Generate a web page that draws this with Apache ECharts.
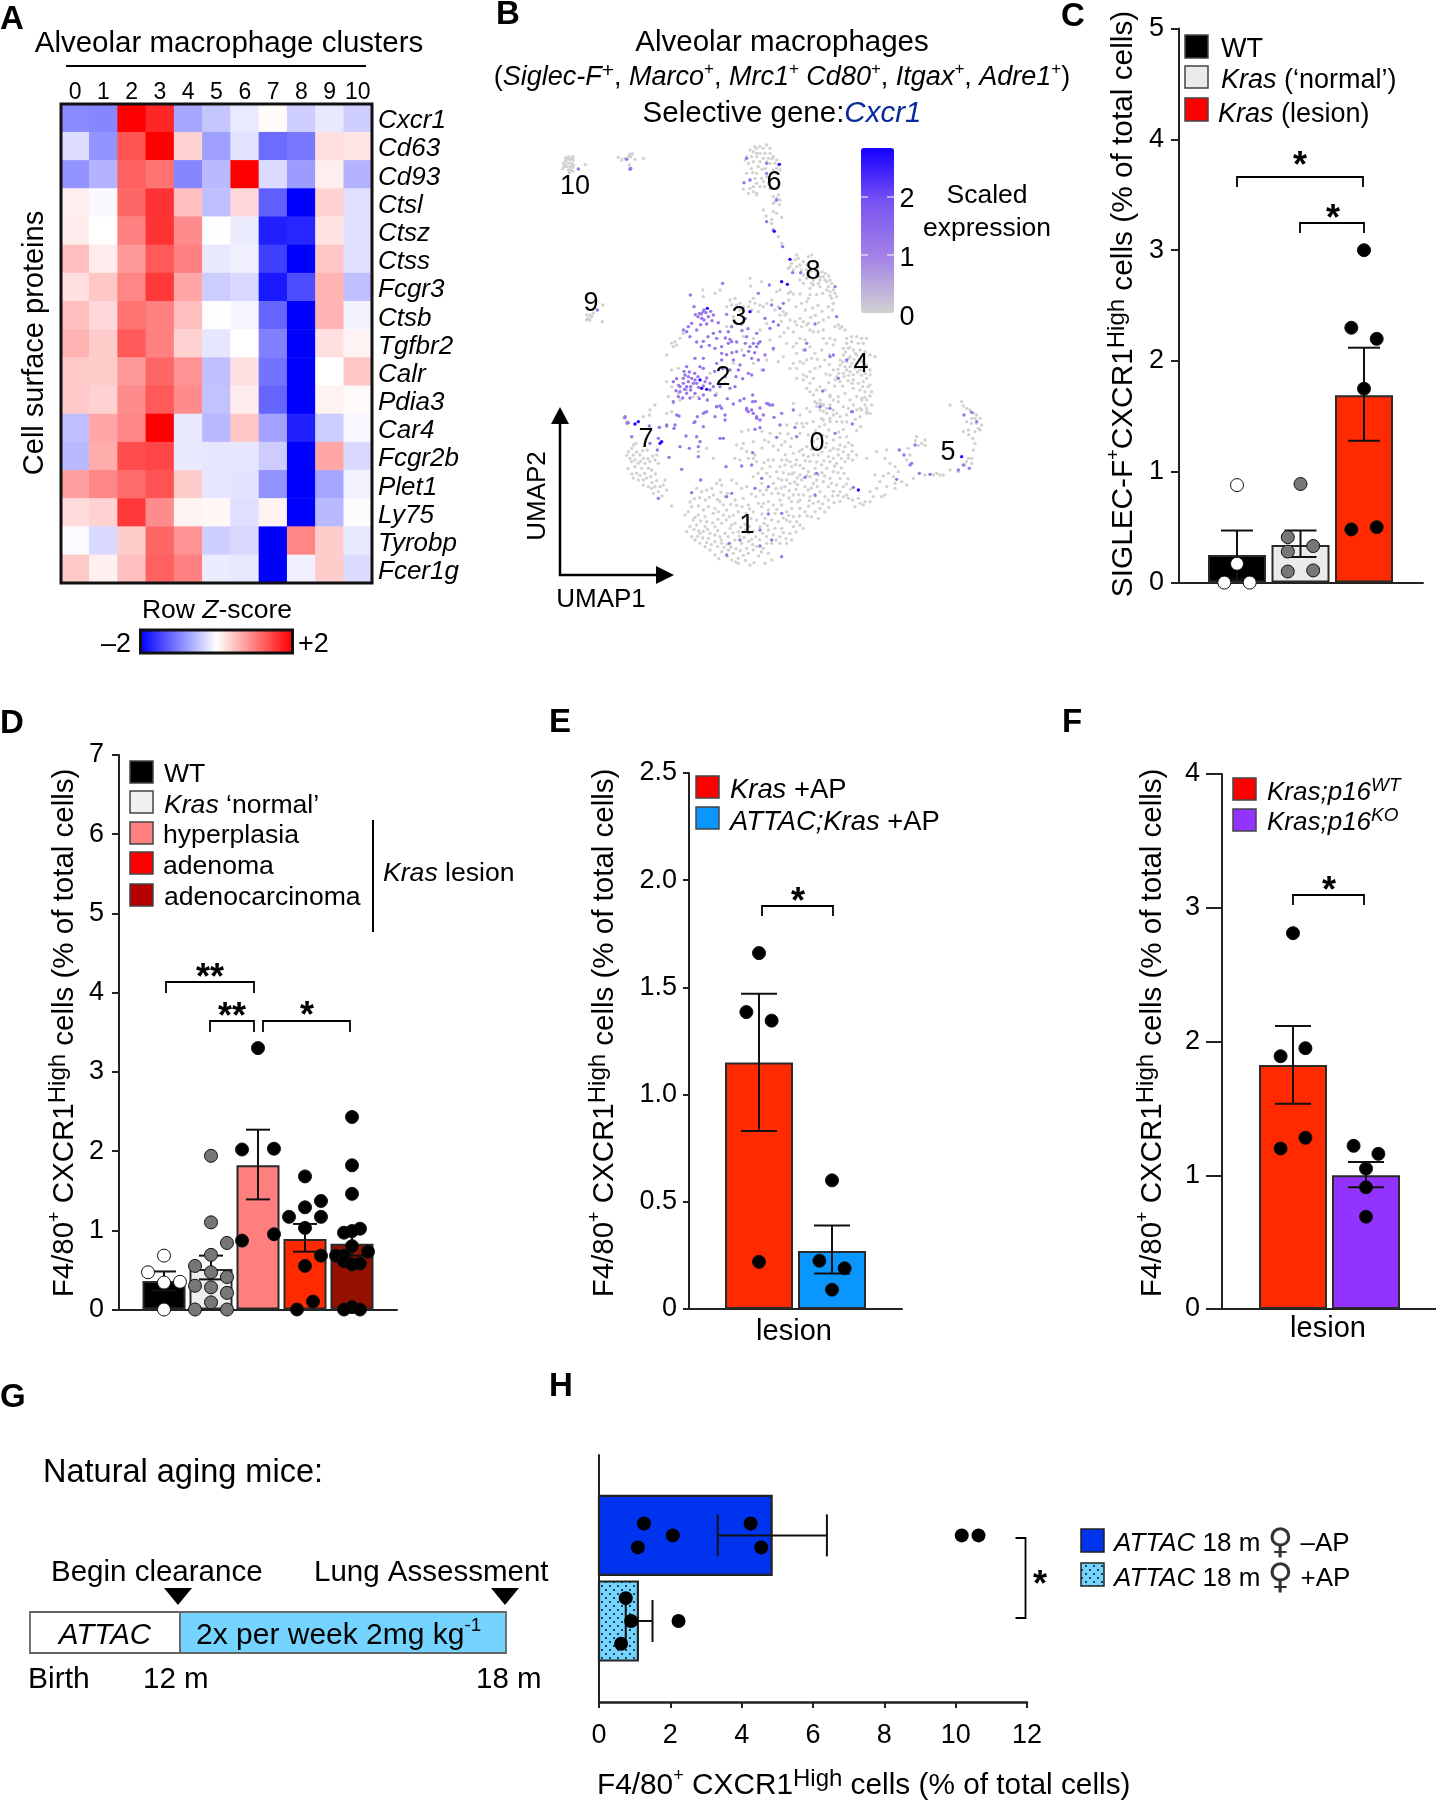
<!DOCTYPE html>
<html><head><meta charset="utf-8">
<style>html,body{margin:0;padding:0;background:#fff}#c{width:1436px;height:1800px}</style>
<script src="https://cdn.jsdelivr.net/npm/echarts@6/dist/echarts.min.js"></script>
</head><body><div id="c"></div>
<script>
// ---------- A: heatmap ----------
const heatClusters=['0','1','2','3','4','5','6','7','8','9','10'];
const heatGenes=['Cxcr1','Cd63','Cd93','Ctsl','Ctsz','Ctss','Fcgr3','Ctsb','Tgfbr2','Calr','Pdia3','Car4','Fcgr2b','Plet1','Ly75','Tyrobp','Fcer1g'];
const heatZ=[
[-.92,-.95,2,1.7,-.7,-.45,-.17,.03,-.38,-.18,-.38],
[-.27,-.85,1.35,2,.35,-.75,-.22,-1.15,-1.05,.25,.2],
[-.85,-.6,1.25,1.1,-.95,-.55,2,-.28,-.78,.13,-.6],
[.13,-.05,1.2,1.6,.5,-.5,.3,-1.25,-2,.35,-.25],
[.15,0,1,1.6,.9,.01,-.15,-1.75,-1.7,.22,-.25],
[.5,.15,.8,1.3,1,-.18,-.12,-1.5,-2,.45,-.25],
[.25,.45,.95,1.55,.7,-.4,-.3,-1.8,-1.4,.6,-.5],
[.5,.3,1.1,1,.5,-.01,-.08,-1.2,-2,.6,-.1],
[.6,.4,1.3,1,.35,-.2,0,-1,-2,.25,.1],
[.42,.4,.8,1.2,.85,-.5,.25,-1.1,-2,0,.45],
[.42,.35,.9,1.3,.9,-.48,.15,-1.2,-2,.1,.04],
[-.5,.7,.95,2,-.18,-.55,.45,-.72,-1.75,-.4,-.06],
[-.55,.65,1.4,1.45,-.18,-.2,-.2,-.4,-2,.7,-.3],
[.75,.95,1.15,1.35,.4,-.2,-.22,-.85,-2,-.7,-.1],
[.28,.35,1.55,.9,.1,.07,-.25,.1,-2,-.55,-.02],
[-.04,-.3,.4,1.2,.85,-.38,-.3,-2,.95,.4,-.18],
[.42,.12,.5,1.25,1,-.15,-.18,-2,-.12,.4,-.28]];

// ---------- B: UMAP cells, flat u,v lists ----------
const umapGreyTop=[7,90,7.5,90.5,8,91,8.5,91.5,9,91,9.5,91.5,10,91,7.5,89.5,8.5,90,9.5,90,10,89.5,7.2,89,8,89,9,89,9.8,88.8,8.5,88,9.2,88,9.8,87.6,8.8,87.2,13.6,89.6,23.5,91.8,24.5,91,25.5,91.5,26.5,92,27,92.8,27.8,92.8,27.2,92,28.5,91.2,26.8,89.5,31,91.5,14,44.5,15,44.5,15.5,44,14.5,43.5,15,43,14,43,16,45,18.7,42.5,18.8,47.5];
const umapGrey6=[63,94,64,93.5,65,94.5,66,95,67,94.5,68,95.5,69,94.5,66,93,67.5,93,69,93,63.5,92,65,92,67,91.5,68.5,91.5,70,92,71,91,66,90.5,69,90,70.5,90,71.5,89.5,72,88,71,88.5,70,88,69.5,87,71,87,62,92,61.5,91,62.5,90,64,90.5,65.5,89,65,87,64.5,85.5,62,87,63,85,66.5,85.5,67,84.5,65,84,66,83,64,83,68,86,68.5,84,61,82.3,63,82.5,65,81,62.5,81,64,81.5,65,80.5,70,80,71,79.5,70.5,78.5,72,79,71.5,80.5,67,76,67.8,74.2,69.5,73.2,70,75.5,71,75,72.5,73.8,69.5,72,71.5,68,72.5,66];
const umapGrey8=[77,62.5,77.5,61.5,76.5,61,75.5,60,75,59,74.5,58.5,76,58,77,59,78,59.5,79,60.5,80.5,62,81.5,62.5,82,60.5,80,59.5,78.5,58,80,58,79,56.5,80,55.5,78,55,79,54,80.5,56,82,55,81.5,54,83,56.5,84,56,85,56,85.5,55,84,55,83.5,54,82,53.5,81,52.5,84,53,86,54.5,87,55,87.5,54,86.5,53,88,52,87,51.5,87,50.3,88.5,51,87.5,49.5,89,50,88,48,86.5,47,63,55.5,63.2,53.2,66.5,54.5,71,51.5,72,52,74.5,51,76,50.8,78,50.8,75.2,51.5,80.5,49.5,80,48.5];
const umapGrey3=[57,49,58.5,49.5,60,48,61,47,57.5,47.5,56,47,59,47.5,60,46,64,49.5,63,48.5,64.5,48,66,47.5,62.5,47,63.5,46,65.5,45.5,67,47,68,48,69.5,49,71.5,47,70.5,46,73,45.5,74,45,73.5,44.5,72,44.5,75,43,76.5,42.5,78,43.5,79,42.5,77,41.5,78.5,41,80,41.5,81,40,82,39.5,83.5,39.5,85,40,80.5,42,88,48,87.8,46,88.5,41,90,40.5,91.5,40,89.5,41.5,90.5,41,78,37.5,77,36,79.5,37,76,35,81,35,79,34,77,33,85,37.5,87,37.5,88.5,37,86,36,88,35.5,84.5,34,82.5,33,80,31,81.5,31.5,79,30,76,30,75,28.5,77,28.5,78,30.5,84,29,82.5,28.5,81,27.5,79,26.5,77,25.5,40.5,36.5,39.5,36,41,35.5,40,35,42,37.5,38,32.5,43,39,52.5,51,54,52,48.8,52,49,50,39.5,28,41.5,28.5,38,24.5,39.5,23,44,22,41.5,21,38.5,20,46,20,47.5,20,51,27,55.5,24,53,21,61,38,64,37.5,60.5,34,70,34,71.5,30.5,66.5,28,64,30,58,30,56,41,58,44,68,42,66,40,72,38,74,36,69,37,73,32,68,31];
const umapGrey4=[92,37.5,93.5,38,95,38,96.5,37.5,98,37.5,92,36,93.5,36.5,95.5,36,97,36,91,34.5,92.5,34.5,94,34,96,34,97.5,33.5,99,32.5,100.5,32,91,32.5,93,32,95,32.5,90,31,92,30.5,90,29.5,91.5,29,93,29,94.5,28.5,92,28,93,27.5,91,27,95,30,96.5,30.5,98,29.5,99,28,96,28,97.5,27,99,26.5,88,28,87,26.5,89,26,88.5,25,90,24.5,94,25,95.5,24,97,24.5,99,23.5,98,25.5,99.5,21.5,96,22,94,22.5,97.5,21.5,95,20,96.5,19,98,19,99.5,17.5,98,16.5,96.5,16,95,16,96,14,98,15,80,26,79,25,81,24,82,25.5,80,22.5,81,21.5,82,20.5,83,22,84,23,82.5,18.5,84,18,83,17,85,17.5,84,16,86,16.5,87,20,88,19,87,17.5,88,16,89.5,18.5,89,15,91,17,92,14.5,90,14,87,13.5,85,13];
const umapGrey5=[123,17.5,126.5,18.5,127,17.2,128,16.5,129,16,130,15,130.5,13.5,131,14.5,132,13.5,132.5,11.5,131,12,132,10,130.5,9.5,128.5,10,127,9.5,131.5,10.5,130.5,6,130,4,129.5,1.5,128.5,1.5,128,.5,129.5,0,127.5,-.5,125.5,-2.5,123,-2,121,-3.5,119,-3,115.5,7,114.5,6,113,8,110.5,4.5,111,2.5,110,1,104,4,103.5,1.5,105,0,106.5,-1,107.5,-2.5,106,-4,104.5,-3,108.5,-5.5,110,-6.5,112,-4.5,115.5,-3.5,118,-3.5,120,-3.5,106.5,-6,106.5,-7.5,104,-7,103.5,-9.5,102.5,-10,100,-10,99,-11.5,97.5,-11.5,96,-12,94.5,-13,97,-12.5,100.5,-3.5,101,3.5,98,1.5,95,2.5];
const umapGrey7=[25.2,13.5,26,12.5,32.8,14.5,31,14,34.5,17.5,33,16,38,15,39.5,15.5,42,19,40,18,27.5,4.5,26.5,3.5,28,2.5,27,1.5,28.5,1,27.5,.5,30,2.5,31,1.5,29.5,0,31.5,0,33,.5,28.5,-1,29,-3,30.5,-1.5,32.5,-1.5,33.5,-2,34.5,1,35,2.5,35.5,0,31,-5,29.5,-5,31,-6.5,32.5,-7,33.5,-7.5,34.5,-7,36,-7,37,-6.5,35.5,-8.5,37.5,-5,39.5,-12.8,28,5.5];
const umapGrey0=[76,18,78,14.5,81,15.5,80,16.5,84,19,83,18,84.5,17.5,87,20.5,89.5,20,91.5,21,93,19,96.5,19.5,98,15.5,99,15,97.5,17.5,96,16.5,94,17.5,92.5,16.5,88,14.5,89,12.5,87,12.5,84.5,13.5,82,12.5,80,12,78.5,12,77,12,74,11.5,72,9,73.5,6.5,72.5,5.5,71.5,4,75.5,7.5,78,9,80.5,8.5,79,11,60.5,9.5,62.5,10,59,5.5,61,6,64,6.5,60.5,4.5,62,3.5,64,1.5,65,.5,58.5,1.5,60,1,62.5,1.5,64.5,2.5,50,4.5,52,1.5,47.5,3.5,72.5,1,74,1,75,.5,73.5,-.5,75.5,-1,72,-1,77,1,79,2.5,80.5,2,82,2.5,83.5,2.5,86.5,2,88,1.5,89.5,2.5,91,3.5,92.5,2.5,91.5,5,90,5.5,88,7,86,6,88,4.5,86,8,92.5,1.5,91.5,.5,89,0,87,.5,84.5,-.5,82.5,-1.5,80.5,-2.5,79,-1.5,78,-3.5,81,-4,83.5,-3.5,86,-1.5,88,-2.5,90,-4.5,91,-7,89,-6.5,90,-8.5,92,-9.5,92.5,-10.5,87,-4.5,86.5,-7,85,-5.5,84,-8.5,85.5,-10,86.5,-11,83.5,-11.5,82,-12,84,-13.5,82.5,-14.5,83.5,-16.5,78.5,-5,79.5,-7,80.5,-8,82,-6,79,-9.5,81,-10,78,-11,78,-13.5,79.5,-14.5,76,-9.5,75.5,-11.5,75.5,-13.5,76,-16,77,-17.5,78,-18.5,79,-19.5,76,-19,75,-17.5,74,-5,72.5,-5,73.5,-7,75,-6,71.5,-4.5,69,-4,70,-6,69.5,-9,71.5,-9,73,-9.5];
const umapGrey1=[68.5,-11.5,67,-12,70,-12.5,72.5,-12.5,74,-14.5,68.5,-14,70.5,-15,67.5,-16.5,69.5,-17,71.5,-17.5,74,-17,72.5,-19.5,70.5,-19.5,68.5,-20,68,-22,70,-21.5,72,-22,75,-21,75.5,-23,74,-24,72,-24,69.5,-24,68,-24,43.5,-15.5,44.5,-14.5,45.5,-13,47.5,-12.8,49,-14,50.5,-13,52.5,-13.5,54,-11.5,55,-12.5,56,-14,52,-15,49.5,-16,47.5,-15.5,46,-17,47,-18.5,45,-19,44,-20.5,45.5,-22,46.5,-23,48,-24,49.5,-25,51,-26,52.5,-27.5,54.5,-26.5,56.5,-26,58,-27,59.5,-28.5,59.5,-30,57.5,-29,62.5,-27,64,-26,65,-25,63,-30.5,64.2,-29.8,67.5,-30,69.5,-29,68.5,-27,50,-17.5,49.5,-19,48,-21,51,-21,52.5,-21.5,54,-22,55.5,-21,56.5,-22,50.5,-22.5,52.5,-23.5,54.5,-24,57,-19.5,58.5,-18,57.5,-18.5,54.5,-18,52.5,-19,53.5,-14.5,55,-15.5,59.5,-20.5,60.5,-24,62,-25.5,58.5,-23,64,-14.5,65.5,-12,66.5,-13,65,-17,66,-19,64,-20.5,62.5,-21,60.5,-7.5,62,-7,59,-6,57.5,-5,54.5,-6.5,53,-6,51.5,-7.5,50,-8,48.5,-8.5,47,-7.5,54,-5,52,-9.5,55.5,-10,58.5,-11,61,-10.5,62.5,-12.5,59.5,-14.5,64,-4,66.5,-6,68,-3,69,-1,70,1,68.5,1];
const umapGreyDense1=[46.5,-16.2,48.2,-17.3,46.2,-19.8,47.6,-20.2,49,-20.4,50.3,-19.8,48.8,-22.4,47.2,-21.9,50,-23.8,51.4,-24.4,53.3,-25,55.2,-25.2,56.2,-24.3,57.3,-25.1,58.8,-25.6,60.1,-26.2,61,-27.6,61.6,-29.1,58.7,-29.6,56.2,-27.9,53.6,-28.6,54.4,-23,53.3,-20.2,51.8,-17.9,53.4,-16.8,55.9,-17,56.8,-16,58,-15.6,60.6,-16.3,61.5,-18.3,60.2,-19.2,61.6,-20,62.8,-18.9,63.3,-16.6,61.8,-15,62.9,-13.7,60.6,-13,59,-12.6,57.2,-12.3,56.2,-9,54.3,-8.7,53.3,-10.8,50.8,-10.2,49.6,-11,47.9,-10.3,46.3,-10.6,45,-11.6,63.5,-22.8,64.7,-22,65.9,-22.9,66.8,-21,66.4,-26.6,67,-25.5,65.6,-27.8,62.6,-23.4,63.8,-24.4,61.2,-22.2,59.8,-21.8,57.9,-20.8,67.2,-18,66.6,-15.2,68.2,-18.7,70.8,-23,73,-20.8,73.8,-22.6,76.8,-20.6,77.8,-15.8,74.6,-15.6,73,-16.4,71,-13.8,72,-11,74.7,-10.4,76.8,-7.8,77.6,-9.4,74.8,-8.2,72.4,-7.4,70.8,-7.6,68,-8,67,-9.4,66,-8.2,64.8,-10,63.4,-9.2,65.4,-3,66.6,-1.6,67.2,.2,71,-2.5,73,-2.8,74.6,-3.2,76.2,-2.8,77.2,-4.4,76.4,-5.6];
const umapGreyDense0=[78.6,4.2,80,5,81.4,4.2,83,4.6,84.6,3.4,85.6,4.8,87,3.8,89.4,4.2,90.4,1.4,93.6,3.6,93.8,1,92.6,6.2,85.2,.8,83,.4,81,.6,79.6,.8,78,-.6,76.6,-.4,80,-3.6,82.4,-3.2,84.6,-2.8,85.4,-3.8,88.4,-.8,90.4,-1.4,91.2,-3,89.4,-2.8,92.4,-4.6,92,-6.2,93.2,-7.8,88,-8.4,87.8,-9.8,89.4,-9.6,91,-10,90,-11.4,88.2,-11.8,86.6,-13.2,84.8,-12.2,85.4,-14.6,81.4,-16,80.6,-12.8,80.2,-15.8,80.8,-11.2,82.6,-9.8,83.2,-7,81.4,-7.4,87.4,-6,77.2,-6.4,77.4,-11.6,83,-5,75.6,-3.2,73.6,2.6,76,3,77.8,3.6,75.2,5,70,5.2,68.6,6.4,66.6,4.6,67.4,7,69,9,66.6,9.6,74.4,8.8,82.6,9.8,83.8,11,85.4,11.6,86.6,10,84.8,8.4,83.2,7.4,82,6.6,89.6,9.4,91,10.2,90,7.8,92,8,95,9.8,96.2,11,94.6,13.2,86,15,85,15.6,92,12.4,90.6,12.4,93.6,5.4];
const umapGreyDense=[92.8,34.8,94.6,33,96,31,93.6,30,92.6,31.4,94.2,31.2,91.6,33.4,90.8,30.4,89.4,28.2,91.2,26,92.6,26.4,94,26.6,95.2,27.4,96.4,26.4,89.6,27,98.4,23,96.8,23,97.4,19.8,99,20.2,93.6,24,92.4,24.8,90.8,23.2,88.4,23.2,86.6,24.2,85.6,22,85.8,26.8,86.8,29.6,85.4,31,86.8,32.6,83.2,31.2,74.6,49,76.8,47,78.4,48,79.6,46,81.8,46.6,83.4,47.4,84.6,45.6,82.6,44.4,81.2,43.8,85,43,86.6,43.8,83.6,42.2,72.4,42.6,74.4,40.6,76,39.4,73.2,39.2,80.2,56.8,81.2,57.6,82.6,57.8,83.4,58.8,84.6,57.4,85.6,57,86.6,56.2,86,52,84.8,51,83,50.6,81,50.6,65,93,64.4,95,69.6,91.4,68,90.4,63.4,88.4,63.8,87.2,66.6,88.2,67.6,88.4,69,82.4,67.4,83,71,82.6,70,78,71.8,77.6,26.4,-1.6,27.6,-3.2,28,-4.4,30,-3.6,31.4,-3,32,-4.4,33.2,-4,34.6,-3.2,35,-5.2,33.6,-5.8,30.2,.6,32.4,1.4,33.8,2.2,29,3.4,30.8,3.8,32.2,4,28.8,6,26,2.4,34,-9,36.6,-9.8,38,-8,6.8,88.4,8.6,92,9.9,92,7.6,91.6,115.5,5.4,113.5,5.4,112.6,6.8,103,-3.8,102,-5.5,101,-7.5,99,-8.5,95.5,-10.5,93.8,-11,128,12.5,129.4,12,129.5,13.5,128.6,8.6,129.8,7.5];
const umapMid=[11.5,88.3,26,91.2,27.2,88.5,27,88.2,17.2,46,68,90,61.2,84.2,63,85,68,87,62,91.5,69,85,71,79,68,72.5,70,70,72.8,65,75.8,57.2,78.2,57.2,68.8,53.5,45.1,50.5,54.8,54,46.2,47,49,45.5,49.8,45.2,48.4,44.8,47.8,45,50.5,44,48.5,43.5,52,44.5,53.5,42.2,56,44.7,45.5,42,44.5,41,43,40,44,39.5,47,40,45,38,54,39.5,56.5,39.5,57.5,41,53,37.5,57,37.2,57.5,36.5,56.5,36,54.5,35,52.5,34.5,59,33.5,62,38,65,39,64,36,65.5,36,66,36.5,63,35,65,35,69.5,47.5,73,48,72,46.5,70,42.5,71.5,41.5,69,40.5,67.5,43.5,65.5,51,46.5,31.5,49,31.5,48,29,44,29,49,28.5,53,30,54.5,31,58,31,63.5,31.5,65.5,31,70,34.5,67.5,32.5,60,29.5,59.5,28,62.5,27,63.5,26.5,67,28,43.5,26.5,44.5,26,43,25.5,45.5,25.5,46.5,25,44.5,24.5,43,24,42,23,44,23,46,24,49.5,24.5,51,24,51,22,52,23,42,21.5,44,21,46.5,21,40,24.5,41.5,20,40,18.5,49,20.5,57,22.5,58.5,23,63.8,20.5,68,18,69,17.5,62,16.5,62.5,15.5,64,15,65,14,66,13,53,17,54.5,16.5,50,15.5,49,15,41,14.5,46.5,12.5,55.5,14.5,52.5,14,25.5,14,26.2,12,35.8,10.8,38,11.5,40.5,11.5,49,11,76,16,93.5,15.5,84.8,21.7,89.5,25.5,89,44,88.5,53,82.5,41.8,80,36,79.5,34,92,31,87,32,88,32.5,25.5,13.8,26.5,12.2,32.8,11.2,35.8,10.8,38,11.2,40.2,10.5,41.7,14.2,27.5,8,33,6,35.5,7.5,35.2,4,38.7,1.8,35.5,-10.5,43.8,8.2,42,5,44.8,4.5,47.5,5,48,6.5,47,8,54,7.5,55,7.5,55.8,-1,42.5,-1.8,45.5,-8.8,48.2,-5,47.5,2,47.2,14,46.2,12.2,49.5,15.3,53,17,54,17.2,55.5,13,62,16,63.5,16,63.8,18.5,67,14.5,68.5,17.8,69.8,17.5,65,13.5,70.2,13.8,72,11.5,72.5,15,64.5,10.2,66,10.7,71,7.8,77,8,76.5,10.8,93.7,15.5,93.7,11.8,88.5,9,84,17,87,16.5,60.5,-.8,63.5,-.5,63.8,3.2,66.5,-4.5,68.5,-7,64.5,-7.5,56,-10,57.5,-9,68.5,-15.2,72.5,-15,66,-20,56.8,-24,56,-27.5,69.5,-23,72.5,-28,60,-23,66,-24.8,79.5,-4.2,82.5,-9.5,83,-3,127.2,14.5,129.5,15.3,131,12.5,127,-.5,128.8,-1.5,125.5,-2,117,-3.3,113.8,-3,111,-.5,111.5,0,109.2,2.5,107.8,4,112.5,5.5,107,-4.8,94,-7.2];
const umapMidDense=[43.2,27.6,44.8,27.4,46.4,27,47.4,26,47,24,45.2,23,43.4,22.2,45.2,22,47.6,22.8,49,23.2,50,25.6,41,25.4,41.6,23.4,40.8,21.8,42.8,19.6,45,19.6,47.8,19.4,50.2,19,52.6,20.4,54,23,55.6,26,57,28,54.8,28.4,52.4,27.6,54.5,33,56,32.6,57.6,33.2,55.6,37.6,52,39,50.4,38,49,36.6,50.8,35.4,48.4,35,47,36.4,49.2,43,47.4,44,46.6,44.6,49.2,46,51.2,45.6,51.6,42.8,50,41.8,48.2,41.6,60.4,41.8,61.6,43.4,62.4,40.4,60.6,39.8,59,36.4,61.6,36,62.6,33.6,64.4,33.2,61.2,32.4,58.8,26,60.8,25.4,56.2,19.4,58,17.8,60,18.8,61.2,19.4,64.6,18.6,66,16.6];
const umapHigh=[71.8,89.7,70.3,69.6,75,61.2,72.5,54.5,74.2,53.7,50.2,46.5,63,45.5,48,25,48.5,22.5,50,22.2,28.5,11.8,29.5,12.5,36.5,6.5,36,6,95.5,-8,126.5,2];
const umapLabels=[['10',10.5,83],['6',70.2,84.3],['8',81.9,57.4],['9',15.3,48],['3',59.7,43.6],['4',96.3,29.6],['2',54.9,25.7],['7',31.8,7],['0',83.1,5.8],['5',122.4,3.1],['1',62.1,-18.6]];

// ---------- C ----------
const cValues=[.25,.34,1.69];
const cErr=[[.03,.47],[.23,.47],[1.28,2.12]];
const cDots=[[[0,.88],[0,.17],[-.2,0],[.2,0]],[[0,.89],[-.2,.41],[-.2,.28],[.2,.33],[-.2,.1],[.2,.11]],[[0,3],[-.2,2.3],[.2,2.2],[0,1.75],[-.2,.48],[.2,.5]]];
const cYTicks=[0,5,1];
// ---------- D ----------
const dValues=[.36,.51,1.82,.89,.83];
const dErr=[[.24,.48],[.38,.68],[1.39,2.27],[.73,1.08],[.68,.99]];
const dDots=[[[0,.68],[-.34,.47],[0,.34],[.34,.35],[0,0]],
[[0,1.94],[0,1.1],[.34,.84],[0,.69],[-.34,.55],[0,.47],[.34,.41],[-.34,.3],[0,.28],[.34,.21],[0,.09],[-.34,0],[.34,0]],
[[0,3.3],[-.34,2.02],[.34,2.03],[.34,.95],[-.34,.87]],
[[0,1.68],[.34,1.37],[0,1.29],[-.34,1.17],[.34,1.17],[0,1.03],[.34,.68],[0,.55],[.17,.1],[-.17,0]],
[[0,2.43],[0,1.82],[0,1.46],[.17,1.02],[0,.99],[-.17,.97],[0,.8],[-.17,.68],[.34,.73],[-.34,.68],[-.17,.61],[0,.57],[.17,.58],[0,.03],[-.17,0],[.17,0]]];
// ---------- E ----------
const eValues=[1.15,.27];
const eErr=[[.83,1.47],[.165,.39]];
const eDots=[[[0,1.66],[-.173,1.385],[.173,1.345],[0,.22]],[[0,.6],[-.173,.225],[.173,.19],[0,.09]]];
// ---------- F ----------
const fValues=[1.825,1];
const fErr=[[1.535,2.115],[.91,1.1]];
const fDots=[[[0,2.81],[-.17,1.89],[.17,1.95],[.17,1.28],[-.17,1.2]],[[-.17,1.22],[.17,1.16],[0,1.05],[0,.91],[0,.69]]];
// ---------- H ----------
const hValues=[4.84,1.09];
const hErr=[[3.33,6.39],[.75,1.5]];
const hDots=[[[1.26,-.14],[2.07,0],[1.09,.14],[4.25,-.14],[4.55,.14],[10.17,0],[10.64,0]],[[.75,-.89],[.9,0],[.62,.89],[2.23,0]]];

const FF='"Liberation Sans",Arial,sans-serif', INK='#000';
const pat=(function(){const c=document.createElement('canvas');c.width=8;c.height=8;const g=c.getContext('2d');g.fillStyle='#75d4ff';g.fillRect(0,0,8,8);g.fillStyle='#000';[[2,2],[6,6]].forEach(p=>{g.beginPath();g.arc(p[0],p[1],.9,0,7);g.fill();});return c;})();

// ---- text & shape helpers for annotations ----
function rich(sz,supSz){const s=supSz||Math.round(sz*.78);const b={fontFamily:FF,fill:INK,color:INK};return{
 n:{...b,fontSize:sz,lineHeight:sz*1.25},i:{...b,fontSize:sz,fontStyle:'italic',lineHeight:sz*1.25},
 s:{...b,fontSize:s,verticalAlign:'top'},t:{...b,fontSize:Math.round(sz*.62),verticalAlign:'top'},
 si:{...b,fontSize:Math.round(sz*.72),fontStyle:'italic',verticalAlign:'top'},
 g:{...b,fontFamily:'"DejaVu Sans"',fontSize:sz*1.35,fill:'#333',color:'#333',lineHeight:sz*1.25},
 b:{...b,fontSize:sz,fontStyle:'italic',fill:'#0a2a9c',color:'#0a2a9c',lineHeight:sz*1.25}};}
function T(x,y,text,o){o=o||{};const sz=o.size||26;const rot=o.rot||0;return{type:'text',x:rot?x+2.5:x,y:rot?y:y+2.5,rotation:rot,silent:true,z:50,style:{text,fontSize:sz,fontFamily:FF,fontWeight:o.weight||'normal',fontStyle:o.italic?'italic':'normal',fill:INK,align:o.align||'left',verticalAlign:'middle',textAlign:o.align||'left',textVerticalAlign:'middle',rich:rich(sz,o.sup)}};}
function L(pts,w){return{type:'polyline',silent:true,z:40,shape:{points:pts},style:{stroke:INK,fill:'none',lineWidth:w||1.8}};}
function P(pts){return{type:'polygon',silent:true,z:40,shape:{points:pts},style:{fill:'#000'}};}
function R(x,y,w,h,fill,stroke,lw){return{type:'rect',silent:true,z:40,shape:{x,y,width:w,height:h},style:{fill,stroke:stroke||'#444',lineWidth:lw==null?1.5:lw}};}
function bracket(x1,x2,y,leg,stars,sx,sy){return[L([[x1,y+leg],[x1,y],[x2,y],[x2,y+leg]]),T(sx,sy+6,stars,{size:36,align:'center',weight:'bold'})];}
const yTitle='{n|F4/80}{t|+}{n| CXCR1}{s|High}{n| cells (% of total cells)}';

const xAxis=[],yAxis=[],grid=[],series=[];
const axisLineStyle={color:'#222',width:2};
// A heatmap
grid.push({left:61,top:104,width:311,height:479});
xAxis.push({type:'category',gridIndex:0,position:'top',data:heatClusters,axisLine:{show:false},axisTick:{show:false},axisLabel:{fontSize:23,fontFamily:FF,color:INK,margin:0,interval:0},splitLine:{show:false}});
yAxis.push({type:'category',gridIndex:0,position:'right',inverse:true,data:heatGenes,axisLine:{show:false},axisTick:{show:false},axisLabel:{margin:6,interval:0,formatter:v=>'{a|'+v+'}',rich:{a:{fontSize:26,fontFamily:FF,fontStyle:'italic',color:INK,padding:[6,0,0,0]}}},splitLine:{show:false}});
const heatData=[];heatZ.forEach((r,j)=>r.forEach((v,i)=>heatData.push([i,j,v])));
series.push({type:'heatmap',xAxisIndex:0,yAxisIndex:0,data:heatData,progressive:0,itemStyle:{borderWidth:0}});
// B UMAP
grid.push({left:540,top:130,width:500,height:466.67});
xAxis.push({type:'value',gridIndex:1,min:0,max:150,show:false});
yAxis.push({type:'value',gridIndex:1,min:-40,max:100,show:false});
const toTriples=(a,e)=>{const o=[];for(let i=0;i+1<a.length;i+=2)o.push([a[i],a[i+1],e]);return o;};
const umapData=[].concat(...[umapGreyTop,umapGrey6,umapGrey8,umapGrey3,umapGrey4,umapGrey5,umapGrey7,umapGrey0,umapGrey1,umapGreyDense1,umapGreyDense0,umapGreyDense].map(a=>toTriples(a,0)),toTriples(umapMid,1.25),toTriples(umapMidDense,1.25),toTriples(umapHigh,2.7));
series.push({type:'scatter',xAxisIndex:1,yAxisIndex:1,data:umapData,symbolSize:3.4,clip:false,itemStyle:{opacity:1},large:false,animation:false});
series.push({type:'scatter',xAxisIndex:1,yAxisIndex:1,symbolSize:1,clip:false,z:6,itemStyle:{opacity:0},data:umapLabels.map(l=>({name:l[0],value:[l[1],l[2]]})),
 label:{show:true,position:'inside',opacity:1,formatter:p=>p.name,fontSize:27,fontFamily:FF,color:'#000'}});

function errSeries(xi,yi,data,cap,horizontal){return{type:'custom',xAxisIndex:xi,yAxisIndex:yi,z:4,clip:false,data,
 renderItem(params,api){const c=api.value(0),lo=api.value(1),hi=api.value(2);
  const a=horizontal?api.coord([lo,c]):api.coord([c,lo]),b=horizontal?api.coord([hi,c]):api.coord([c,hi]);
  const st={stroke:'#111',lineWidth:2,fill:'none'};
  const capLine=p=>({type:'line',style:st,shape:horizontal?{x1:p[0],y1:p[1]-cap,x2:p[0],y2:p[1]+cap}:{x1:p[0]-cap,y1:p[1],x2:p[0]+cap,y2:p[1]}});
  return{type:'group',children:[{type:'line',style:st,shape:{x1:a[0],y1:a[1],x2:b[0],y2:b[1]}},capLine(a),capLine(b)]};}};}

function barPanel(o){
 const gi=grid.length;
 grid.push({left:o.left,top:o.top,width:o.width,height:o.height});
 xAxis.push({type:'value',gridIndex:gi,min:(o.left-o.c0)/o.step,max:(o.left+o.width-o.c0)/o.step,axisLine:{show:true,onZero:false,lineStyle:axisLineStyle},axisTick:{show:false},axisLabel:{show:false},splitLine:{show:false}});
 yAxis.push({type:'value',gridIndex:gi,min:0,max:o.ymax,interval:o.interval,axisLine:{show:true,onZero:false,lineStyle:axisLineStyle},axisTick:{show:true,length:o.tick,lineStyle:axisLineStyle},
  axisLabel:{fontSize:27,fontFamily:FF,color:INK,margin:o.margin,formatter:o.fmt||(v=>String(v))},splitLine:{show:false}});
 series.push({type:'bar',xAxisIndex:gi,yAxisIndex:gi,barWidth:o.barW,z:2,data:o.values.map((v,i)=>({value:[i,v],itemStyle:{color:o.colors[i],borderColor:'#2a2a2a',borderWidth:2}}))});
 series.push(errSeries(gi,gi,o.err.map((e,i)=>[i,e[0],e[1]]),o.cap,false));
 const pts=[];o.dots.forEach((g,i)=>g.forEach(d=>pts.push({value:[i+d[0],d[1]],itemStyle:{color:(o.dotColors||[])[i]||'#000',borderColor:'#111',borderWidth:1,opacity:1}})));
 series.push({type:'scatter',xAxisIndex:gi,yAxisIndex:gi,z:5,clip:false,symbolSize:13,data:pts});
}
barPanel({left:1179,top:28.6,width:244,height:554,c0:1237,step:63.5,barW:58,cap:16,tick:8,margin:15,ymax:cYTicks[1],interval:cYTicks[2],values:cValues,err:cErr,dots:cDots,colors:['#000','#ebebeb','#ff2a00'],dotColors:['#fff','#777','#000']});
barPanel({left:119,top:755,width:278,height:554.5,c0:164,step:47,barW:43,cap:12,tick:7,margin:15,ymax:7,interval:1,values:dValues,err:dErr,dots:dDots,colors:['#000','#eee','#ff7f7f','#ff2a00','#961000'],dotColors:['#fff','#777','#000','#000','#000']});
barPanel({left:689,top:773,width:213,height:536,c0:759,step:73,barW:68,cap:18,tick:6,margin:12,ymax:2.5,interval:.5,fmt:v=>v===0?'0':v.toFixed(1),values:eValues,err:eErr,dots:eDots,colors:['#ff2a00','#0a96ff']});
barPanel({left:1222,top:774,width:214,height:535,c0:1293,step:73,barW:68,cap:18,tick:16,margin:22,ymax:4,interval:1,values:fValues,err:fErr,dots:fDots,colors:['#ff2a00','#9333ff']});
// H
const hi=grid.length;
grid.push({left:599,top:1455,width:428,height:247});
xAxis.push({type:'value',gridIndex:hi,min:0,max:12,interval:2,axisLine:{show:true,onZero:false,lineStyle:{color:'#222',width:2.5}},axisTick:{show:true,length:6,inside:false,lineStyle:axisLineStyle},axisLabel:{fontSize:27,fontFamily:FF,color:INK,margin:20},splitLine:{show:false}});
yAxis.push({type:'value',gridIndex:hi,inverse:true,min:-.94,max:1.947,axisLine:{show:true,onZero:false,lineStyle:axisLineStyle},axisTick:{show:false},axisLabel:{show:false},splitLine:{show:false}});
series.push({type:'custom',xAxisIndex:hi,yAxisIndex:hi,z:2,clip:false,data:hValues.map((v,i)=>[v,i]),renderItem(p,api){const i=api.value(1),a=api.coord([0,i]),b=api.coord([api.value(0),i]),h=79;
 return{type:'rect',shape:{x:a[0],y:a[1]-h/2,width:b[0]-a[0],height:h},style:{fill:i===0?'#0033ee':{image:pat,repeat:'repeat'},stroke:'#222',lineWidth:2.2}};}});
series.push(errSeries(hi,hi,hErr.map((e,i)=>[i,e[0],e[1]]),21,true));
const hPts=[];hDots.forEach((g,i)=>g.forEach(d=>hPts.push([d[0],i+(i===0?d[1]:d[1]*.3)])));
series.push({type:'scatter',xAxisIndex:hi,yAxisIndex:hi,z:5,clip:false,symbolSize:14,itemStyle:{color:'#000',opacity:1},data:hPts});

const g=[];
// panel letters
[['A',0,17],['B',496,12],['C',1061,14],['D',0,721],['E',549,720],['F',1062,720],['G',0,1395],['H',549,1384]].forEach(a=>g.push(T(a[1],a[2],a[0],{size:33,weight:'bold'})));
// A
g.push(T(229,41,'Alveolar macrophage clusters',{size:29.5,align:'center'}),L([[66,66],[366,66]],2.2),R(61,104,311,479,'none','#111',3),
 T(32,343,'Cell surface proteins',{size:29,rot:Math.PI/2,align:'center'}),
 T(217,608,'{n|Row }{i|Z}{n|-score}',{size:26.5,align:'center'}),R(140.5,630,152,23,'none','#111',3),
 T(131,642,'–2',{size:27,align:'right'}),T(298,642,'+2',{size:27}));
// B
g.push(T(782,40,'Alveolar macrophages',{size:29.5,align:'center'}),
 T(782,75,'{n|(}{i|Siglec-F}{s|+}{n|, }{i|Marco}{t|+}{n|, }{i|Mrc1}{t|+}{i| Cd80}{t|+}{n|, }{i|Itgax}{t|+}{n|, }{i|Adre1}{t|+}{n|)}',{size:27,align:'center'}),
 T(782,111,'{n|Selective gene:}{b|Cxcr1}',{size:29.5,align:'center'}),
 T(907,197,'2',{size:27,align:'center'}),T(907,256,'1',{size:27,align:'center'}),T(907,315,'0',{size:27,align:'center'}),
 T(987,193,'Scaled',{size:26.5,align:'center'}),T(987,226,'expression',{size:26.5,align:'center'}),
 {type:'line',z:45,silent:true,shape:{x1:861,y1:197,x2:868,y2:197},style:{stroke:'#fff',lineWidth:1}},{type:'line',z:45,silent:true,shape:{x1:887,y1:197,x2:894,y2:197},style:{stroke:'#fff',lineWidth:1}},
 {type:'line',z:45,silent:true,shape:{x1:861,y1:255,x2:868,y2:255},style:{stroke:'#fff',lineWidth:1}},{type:'line',z:45,silent:true,shape:{x1:887,y1:255,x2:894,y2:255},style:{stroke:'#fff',lineWidth:1}},
 L([[560,576],[560,420]],2.5),P([[551,424],[560,407],[569,424]]),L([[559,575],[660,575]],2.5),P([[656,566],[674,575],[656,584]]),
 T(601,597,'UMAP1',{size:26,align:'center'}),T(535,496,'UMAP2',{size:26,align:'center',rot:Math.PI/2}));
// C
g.push(T(1121,304,'{n|SIGLEC-F}{t|+}{n|CXCR1}{s|High}{n| cells (% of total cells)}',{size:29.8,align:'center',rot:Math.PI/2,sup:24}),
 R(1185,35,23,23,'#000'),R(1185,66,23,22,'#ebebeb'),R(1185,98,23,23,'#ff0000'),
 T(1221,47,'WT',{size:27}),T(1221,78,'{i|Kras}{n| (‘normal’)}',{size:27}),T(1218,112,'{i|Kras}{n| (lesion)}',{size:27}),
 ...bracket(1237,1363,177,10,'*',1300,159),...bracket(1300,1364,223,10,'*',1333,212));
// D
g.push(T(62,1033,yTitle,{size:29.5,align:'center',rot:Math.PI/2,sup:24}),
 R(130,761,23,22,'#000'),R(130,791,23,22,'#f0f0f0'),R(130,822,23,22,'#ff8080'),R(130,852,23,22,'#ff0000'),R(130,884,23,22,'#b50000'),
 T(164,772,'WT',{size:26.6}),T(164,803,'{i|Kras}{n| ‘normal’}',{size:26.6}),T(163,833,'hyperplasia',{size:26.6}),T(163,864,'adenoma',{size:26.6}),T(164,895,'adenocarcinoma',{size:26.6}),
 L([[373,820],[373,932]],2),T(383,871,'{i|Kras}{n| lesion}',{size:26.6}),
 ...bracket(166,254,982,11,'**',210,971),...bracket(210,254,1021,11,'**',232,1010),...bracket(263,350,1021,11,'*',307,1009));
// E
g.push(T(602,1033,yTitle,{size:29.5,align:'center',rot:Math.PI/2,sup:24}),
 R(696,776,23,22,'#ff0000'),R(696,807,23,22,'#0a96ff'),T(730,788,'{i|Kras}{n| +AP}',{size:27.4}),T(730,820,'{i|ATTAC;Kras}{n| +AP}',{size:27.4}),
 ...bracket(762,833,906,10,'*',798,895),T(794,1329,'lesion',{size:29,align:'center'}));
// F
g.push(T(1150,1033,yTitle,{size:29.5,align:'center',rot:Math.PI/2,sup:24}),
 R(1233,778,23,22,'#ff0000'),R(1233,809,23,22,'#9333ff'),T(1267,790,'{i|Kras;p16}{si|WT}',{size:26}),T(1267,820,'{i|Kras;p16}{si|KO}',{size:26}),
 ...bracket(1293,1364,895,10,'*',1329,884),T(1328,1326,'lesion',{size:29,align:'center'}));
// G
g.push(T(43,1471,'Natural aging mice:',{size:32.5}),T(51,1570,'Begin clearance',{size:29.5}),T(314,1570,'Lung Assessment',{size:29.5}),
 P([[164,1588],[192,1588],[178,1605]]),P([[491,1588],[519,1588],[505,1605]]),
 R(30,1612,150,41,'#fff','#666',1.8),R(180,1612,326,41,'#75d4ff','#666',1.8),
 T(105,1633,'ATTAC',{size:29.5,italic:true,align:'center'}),T(196,1633,'{n|2x per week 2mg kg}{t|-1}',{size:30}),
 T(28,1677,'Birth',{size:30}),T(143,1677,'12 m',{size:29.5}),T(476,1677,'18 m',{size:29.5}));
// H
g.push(R(1081,1529,23,23,'#0033ee','#222'),R(1081,1563,23,23,{image:pat,repeat:'repeat'},'#222'),
 T(1114,1541,'{i|ATTAC}{n| 18 m }{g|♀}{n| –AP}',{size:26}),T(1114,1576,'{i|ATTAC}{n| 18 m }{g|♀}{n| +AP}',{size:26}),
 L([[1015.5,1538],[1025.5,1538],[1025.5,1618],[1015.5,1618]],1.8),T(1040,1584,'*',{size:36,align:'center',weight:'bold'}),
 T(597,1783,'{n|F4/80}{t|+}{n| CXCR1}{s|High}{n| cells (% of total cells)}',{size:29.8,sup:24}));

const chart=echarts.init(document.getElementById('c'),null,{renderer:'canvas'});
chart.setOption({animation:false,backgroundColor:'#fff',textStyle:{fontFamily:FF},grid,xAxis,yAxis,series,graphic:{elements:g},
 visualMap:[
  {type:'continuous',seriesIndex:0,dimension:2,min:-2,max:2,orient:'horizontal',left:140.5,top:630,itemWidth:23,itemHeight:152,padding:0,text:null,calculable:false,inRange:{color:['#0000ff','#ffffff','#ff0000']},hoverLink:false,textStyle:{fontSize:0}},
  {type:'continuous',seriesIndex:1,dimension:2,min:0,max:2.84,orient:'vertical',left:861,top:148,itemWidth:33,itemHeight:165,padding:0,text:null,calculable:false,inRange:{color:['#d2d2d2','#a484e6','#7a54f2','#1400ff']},hoverLink:false,textStyle:{fontSize:0}}
 ]});
</script></body></html>
